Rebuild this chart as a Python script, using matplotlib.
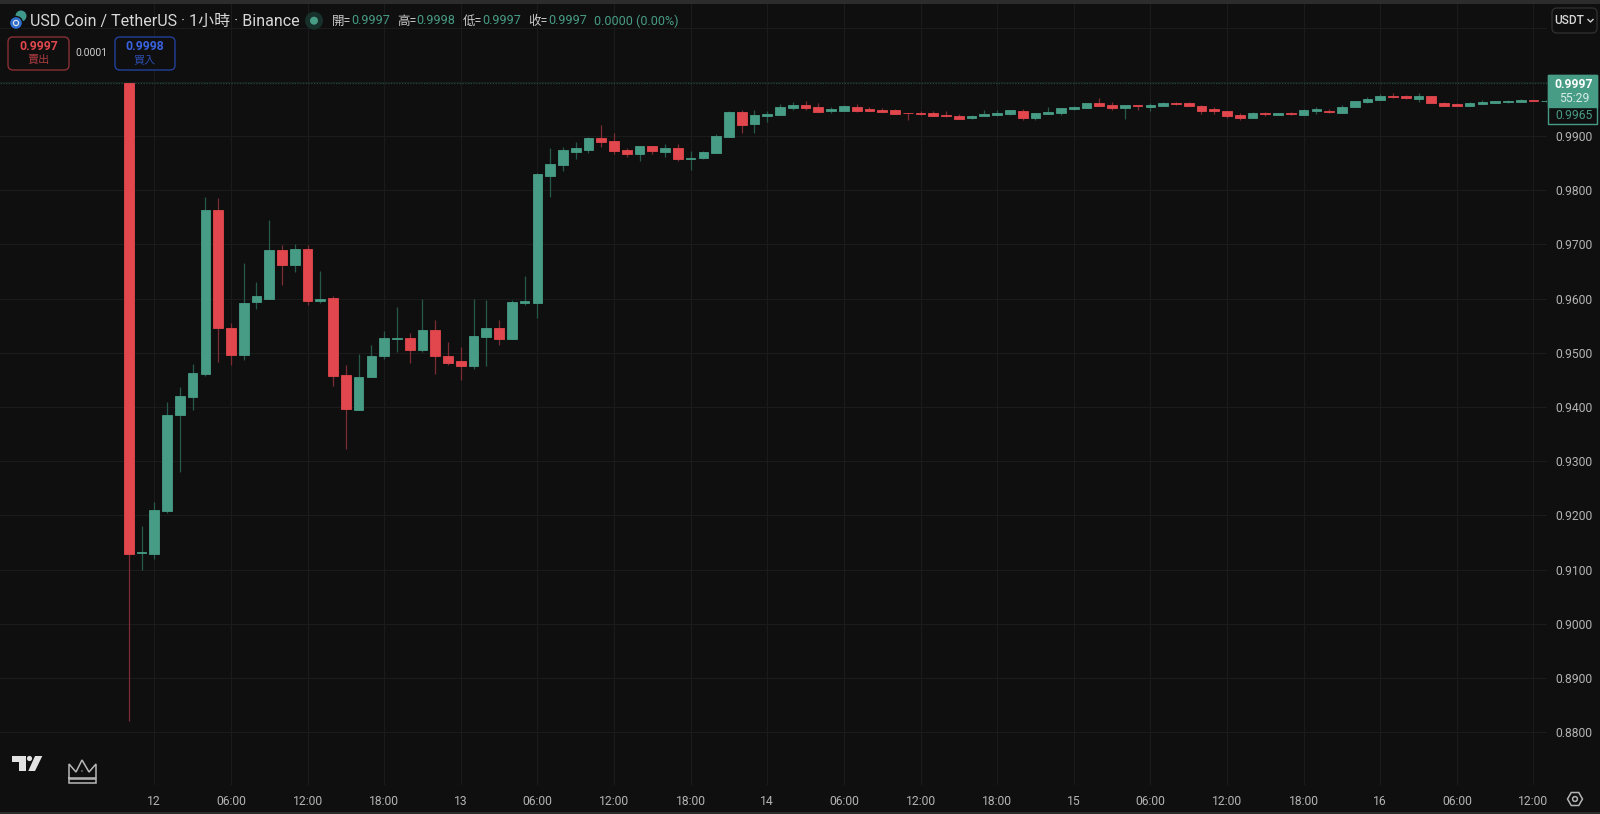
import matplotlib
matplotlib.use("Agg")
import matplotlib.pyplot as plt
from matplotlib.patches import Circle, FancyBboxPatch, Polygon, Rectangle
from matplotlib.transforms import Bbox, TransformedBbox
import numpy as np

plt.rcParams['font.family'] = ['Roboto', 'Noto Sans CJK TC', 'DejaVu Sans']

# hourly candles, first one is 22:00 on the 11th (2 hours before the "12" tick)
FIRST_HOUR = -2
opens = [
    .9997, .9130, .9129, .9208, .9385, .9419, .9461, .9764, .9546, .9496, .9593, .9600,
    .9689, .9662, .9692, .9595, .9601, .9459, .9394, .9455, .9494, .9526, .9528, .9505,
    .9542, .9494, .9484, .9476, .9529, .9546, .9526, .9592, .9592, .9826, .9846, .9871,
    .9875, .9896, .9890, .9875, .9867, .9882, .9871, .9878, .9858, .9859, .9868, .9899,
    .9944, .9922, .9937, .9939, .9952, .9958, .9953, .9946, .9946, .9954, .9950, .9948,
    .9948, .9943, .9942, .9942, .9939, .9937, .9933, .9937, .9939, .9941, .9947, .9934,
    .9941, .9943, .9949, .9952, .9960, .9958, .9952, .9957, .9954, .9956, .9961, .9960,
    .9955, .9949, .9946, .9938, .9933, .9942, .9939, .9942, .9939, .9947, .9947, .9943,
    .9953, .9962, .9967, .9974, .9974, .9968, .9974, .9961, .9959, .9955, .9959, .9961,
    .9962, .9963, .9966, .9964,
]
highs = [
    .9997, .9180, .9225, .9410, .9437, .9480, .9787, .9785, .9555, .9665, .9631, .9745,
    .9699, .9701, .9698, .9650, .9604, .9478, .9497, .9515, .9541, .9584, .9537, .9600,
    .9560, .9519, .9510, .9600, .9597, .9561, .9597, .9641, .9832, .9878, .9879, .9889,
    .9899, .9920, .9905, .9878, .9882, .9882, .9886, .9885, .9873, .9873, .9903, .9947,
    .9948, .9948, .9947, .9959, .9962, .9965, .9960, .9953, .9957, .9959, .9954, .9951,
    .9950, .9943, .9946, .9947, .9947, .9940, .9939, .9948, .9948, .9948, .9950, .9942,
    .9953, .9952, .9955, .9961, .9970, .9962, .9958, .9958, .9961, .9962, .9962, .9962,
    .9958, .9953, .9947, .9942, .9944, .9945, .9942, .9944, .9950, .9954, .9949, .9958,
    .9965, .9971, .9977, .9979, .9976, .9979, .9974, .9963, .9960, .9963, .9966, .9964,
    .9966, .9968, .9967, .9966,
]
lows = [
    .8820, .9099, .9120, .9205, .9280, .9394, .9458, .9483, .9478, .9486, .9581, .9600,
    .9625, .9649, .9589, .9591, .9438, .9323, .9394, .9455, .9488, .9502, .9481, .9501,
    .9460, .9477, .9449, .9470, .9475, .9514, .9526, .9588, .9565, .9788, .9835, .9858,
    .9869, .9880, .9867, .9861, .9854, .9867, .9862, .9853, .9837, .9857, .9868, .9899,
    .9906, .9905, .9925, .9939, .9948, .9948, .9944, .9942, .9946, .9945, .9947, .9945,
    .9941, .9930, .9939, .9936, .9935, .9931, .9932, .9936, .9937, .9939, .9929, .9930,
    .9941, .9938, .9948, .9952, .9956, .9948, .9932, .9948, .9947, .9956, .9958, .9955,
    .9941, .9941, .9934, .9930, .9933, .9937, .9939, .9939, .9939, .9941, .9942, .9943,
    .9953, .9961, .9967, .9970, .9968, .9963, .9960, .9955, .9955, .9955, .9959, .9961,
    .9961, .9963, .9964, .9963,
]
closes = [
    .9129, .9133, .9210, .9385, .9420, .9462, .9764, .9545, .9496, .9592, .9605, .9690,
    .9662, .9692, .9595, .9600, .9457, .9396, .9456, .9494, .9528, .9528, .9505, .9542,
    .9494, .9481, .9476, .9531, .9546, .9526, .9594, .9595, .9829, .9848, .9874, .9877,
    .9896, .9888, .9873, .9867, .9882, .9872, .9878, .9858, .9860, .9870, .9900, .9944,
    .9921, .9938, .9941, .9954, .9958, .9952, .9945, .9949, .9955, .9947, .9947, .9945,
    .9941, .9942, .9940, .9937, .9936, .9932, .9937, .9940, .9942, .9948, .9934, .9942,
    .9945, .9951, .9954, .9960, .9956, .9952, .9957, .9955, .9958, .9961, .9959, .9955,
    .9947, .9947, .9937, .9933, .9942, .9940, .9942, .9940, .9948, .9949, .9945, .9954,
    .9965, .9969, .9974, .9972, .9970, .9974, .9960, .9955, .9955, .9960, .9963, .9964,
    .9964, .9966, .9965, .9965,
]

price_ticks = [.88, .89, .90, .91, .92, .93, .94, .95, .96, .97, .98, .99, 1.00, 1.01]
price_labels = ['0.8800', '0.8900', '0.9000', '0.9100', '0.9200', '0.9300', '0.9400',
                '0.9500', '0.9600', '0.9700', '0.9800', '0.9900', '', '']
time_ticks = list(range(0, 109, 6))
time_labels = ['12', '06:00', '12:00', '18:00', '13', '06:00', '12:00', '18:00',
               '14', '06:00', '12:00', '18:00', '15', '06:00', '12:00', '18:00',
               '16', '06:00', '12:00']
last_price = 0.9997

BG = '#0f0f0f'
GRID = '#1b1b1b'
GREEN = '#479c85'
RED = '#e2474e'
GREEN_WICK = '#25594b'
RED_WICK = '#7e2c33'
AXIS_TEXT = '#b4b4b4'

W, H = 1600, 814
fig = plt.figure(figsize=(W / 100, H / 100), dpi=100, facecolor=BG)

# price pane: pixels 0..1547 across, 4..785 down
ax = fig.add_axes([0, 1 - 785 / H, 1547 / W, 781 / H], facecolor=BG)
ax.set_xlim(-12.083, 109.06)
ax.set_ylim(0.87026, 1.01435)
for s in ax.spines.values():
    s.set_visible(False)

ax.set_axisbelow(True)
ax.grid(True, color=GRID, linewidth=0.8)
ax.yaxis.tick_right()
ax.set_yticks(price_ticks)
ax.set_yticklabels(price_labels)
ax.set_xticks(time_ticks)
ax.set_xticklabels(time_labels)
ax.tick_params(axis='y', length=0, pad=19.4, labelsize=8.7, labelcolor=AXIS_TEXT)
ax.tick_params(axis='x', length=0, pad=7, labelsize=8.7, labelcolor=AXIS_TEXT)

# the last time label is cut by the price scale
pane_box = TransformedBbox(Bbox([[0, 0], [1547 / W, 1]]), fig.transFigure)
for lab in ax.get_xticklabels():
    lab.set_clip_box(pane_box)
    lab.set_clip_on(True)
for lab in ax.get_yticklabels():
    lab.set_ha('center')

ax.axhline(last_price, color='#1f4d40', linewidth=0.9, linestyle=(0, (1, 1.2)), zorder=1)

o = np.array(opens)
h = np.array(highs)
l = np.array(lows)
c = np.array(closes)
x = np.arange(len(o)) + FIRST_HOUR
up = c >= o

ax.vlines(x[up], l[up], h[up], color=GREEN_WICK, linewidth=0.9, zorder=2)
ax.vlines(x[~up], l[~up], h[~up], color=RED_WICK, linewidth=0.9, zorder=2)
ax.bar(x[up], (c - o)[up], bottom=o[up], width=0.76, color=GREEN, edgecolor=GREEN,
       linewidth=0.6, zorder=3)
ax.bar(x[~up], (c - o)[~up], bottom=o[~up], width=0.76, color=RED, edgecolor=RED,
       linewidth=0.6, zorder=3)

# overlay in screen pixels for the header, badges and icons
ov = fig.add_axes([0, 0, 1, 1], facecolor='none')
ov.set_xlim(0, W)
ov.set_ylim(H, 0)
ov.axis('off')

ov.add_patch(Rectangle((0, 0), W, 4, color='#2c2c2c', lw=0))
ov.add_patch(Rectangle((0, H - 2), W, 2, color='#2c2c2c', lw=0))


def label(px, py, txt, color, size, ha='left', weight='normal'):
    ov.text(px, py, txt, color=color, fontsize=size, ha=ha, va='center', fontweight=weight)


def badge(x0, y0, x1, y1, edge, fill=BG, radius=5):
    ov.add_patch(FancyBboxPatch((x0 + radius, y0 + radius), x1 - x0 - 2 * radius, y1 - y0 - 2 * radius,
                                boxstyle='round,pad=%d,rounding_size=%d' % (radius, radius),
                                fc=fill, ec=edge, lw=1.0))


# coin logo
ov.add_patch(Circle((21, 16), 5.5, fc='#3f9a8c', lw=0))
ov.add_patch(Circle((16, 23), 6.5, fc='#2f6fd0', ec=BG, lw=1))
ov.add_patch(Circle((16, 23), 2.6, fc='none', ec='#e8e8e8', lw=0.8))

label(30, 21, 'USD Coin / TetherUS · 1小時 · Binance', '#d8d8d8', 11.5)
ov.add_patch(Circle((314, 20.7), 9, fc='#17302a', lw=0))
ov.add_patch(Circle((314, 20.7), 4, fc=GREEN, lw=0))

OHLC_SIZE = 9.0
for px, vx, name, val in [(332, 351, '開=', '0.9997'), (397, 416, '高=', '0.9998'),
                          (463, 482, '低=', '0.9997'), (528, 548, '收=', '0.9997')]:
    label(px, 21, name, '#c8c8c8', OHLC_SIZE)
    label(vx, 21, val, GREEN, OHLC_SIZE)
label(594, 21, '0.0000 (0.00%)', GREEN, OHLC_SIZE)

# bid / ask boxes
badge(8, 37, 69, 70, '#8a2f35')
label(38.5, 46.5, '0.9997', RED, 8.8, ha='center', weight='bold')
label(38.5, 60, '賣出', '#a83a40', 8, ha='center')
label(91.5, 53.5, '0.0001', '#d0d0d0', 7.4, ha='center')
badge(115, 37, 175, 70, '#23409a')
label(145, 46.5, '0.9998', '#3a62e0', 8.8, ha='center', weight='bold')
label(145, 60, '買入', '#2c4cab', 8, ha='center')

# currency button
badge(1552, 8, 1597, 33, '#2e2e2e')
label(1569, 20.5, 'USDT', '#d8d8d8', 8.6, ha='center', weight='medium')
ov.plot([1588, 1590.5, 1593], [19.5, 22, 19.5], color='#d0d0d0', lw=1)

# last price badge
ov.add_patch(Rectangle((1548, 75), 49, 49, fc=BG, ec=GREEN, lw=1))
ov.add_patch(Rectangle((1548, 75), 49, 32, fc=GREEN, ec=GREEN, lw=1))
label(1574, 84.5, '0.9997', '#ffffff', 8.7, ha='center', weight='bold')
label(1574, 98, '55:29', '#d8ece6', 8.7, ha='center')
label(1574, 115.5, '0.9965', GREEN, 8.7, ha='center')

# TradingView logo
ov.add_patch(Polygon([[11.7, 756], [25.5, 756], [25.5, 771], [18.5, 771], [18.5, 762], [11.7, 762]],
                     fc='#e2e2e2', lw=0))
ov.add_patch(Circle((29.5, 758.5), 2.6, fc='#e2e2e2', lw=0))
ov.add_patch(Polygon([[35, 756], [42.3, 756], [35, 771], [28.3, 771]], fc='#e2e2e2', lw=0))

# crown
ov.plot([69, 69, 76, 82, 89, 96, 96, 69], [778, 764, 772, 760, 772, 764, 778, 778],
        color='#b8b8b8', lw=1.1, solid_joinstyle='miter')
ov.add_patch(Rectangle((69, 779), 27, 4, fc='none', ec='#b8b8b8', lw=1.1))
ov.add_patch(Circle((82, 771), 0.7, fc='#b8b8b8', lw=0))

# settings icon
ang = np.radians(np.arange(0, 360, 60))
ov.add_patch(Polygon(np.column_stack([1575 + 7.5 * np.cos(ang), 799 + 7.5 * np.sin(ang)]),
                     fc='none', ec='#b4b4b4', lw=1.1))
ov.add_patch(Circle((1575, 799), 2.4, fc='none', ec='#b4b4b4', lw=1.1))

fig.savefig('out.png', dpi=100, facecolor=BG)
